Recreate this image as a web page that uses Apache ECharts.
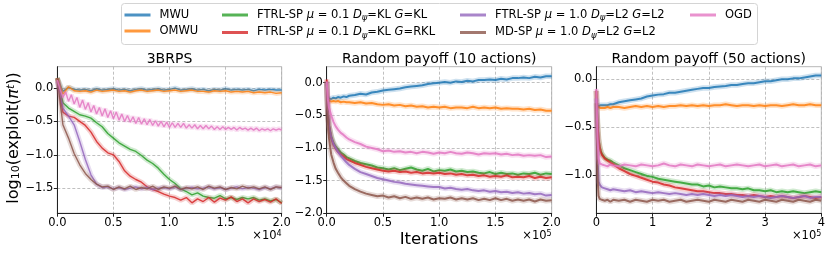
<!DOCTYPE html>
<html><head><meta charset="utf-8">
<script src="https://cdn.jsdelivr.net/npm/echarts@6/dist/echarts.min.js"></script>
<style>html,body{margin:0;padding:0;background:#fff}#c{width:830px;height:253px}</style>
</head><body><div id="c"></div>
<script>
const FONT = 'DejaVu Sans';
const names = ['MWU','OMWU','FTRL-SP μ = 0.1 Dψ=KL G=KL','FTRL-SP μ = 0.1 Dψ=KL G=RKL','FTRL-SP μ = 1.0 Dψ=L2 G=L2','MD-SP μ = 1.0 Dψ=L2 G=L2','OGD'];
const richNames = ['MWU','OMWU','FTRL-SP {i|μ} = 0.1 {i|D}{s|ψ}=KL {i|G}=KL','FTRL-SP {i|μ} = 0.1 {i|D}{s|ψ}=KL {i|G}=RKL','FTRL-SP {i|μ} = 1.0 {i|D}{s|ψ}=L2 {i|G}=L2','MD-SP {i|μ} = 1.0 {i|D}{s|ψ}=L2 {i|G}=L2','OGD'];
const colors = ['#1f77b4','#ff7f0e','#2ca02c','#d62728','#9467bd','#8c564b','#e377c2'];
const panelTitles = ['3BRPS','Random payoff (10 actions)','Random payoff (50 actions)'];
const yTicks1 = [-1.5,-1.0,-0.5,0.0];
const yTicks2 = [-2.0,-1.5,-1.0,-0.5,0.0];
const yTicks3 = [-1.0,-0.5,0.0];

// ---- Panel 1: 3BRPS ----
const p1X = [0,500,1000,1500,2000,2500,3000,3500,4000,4500,5000,5500,6000,6500,7000,7500,8000,8500,9000,9500,10000,10500,11000,11500,12000,12500,13000,13500,14000,14500,15000,15500,16000,16500,17000,17500,18000,18500,19000,19500,20000];
const p1XFine = [0,250,500,750,1000,1250,1500,1750,2000,2250,2500,2750,3000,3250,3500,3750,4000,4250,4500,4750,5000,5250,5500,5750,6000,6250,6500,6750,7000,7250,7500,7750,8000,8250,8500,8750,9000,9250,9500,9750,10000,10250,10500,10750,11000,11250,11500,11750,12000,12250,12500,12750,13000,13250,13500,13750,14000,14250,14500,14750,15000,15250,15500,15750,16000,16250,16500,16750,17000,17250,17500,17750,18000,18250,18500,18750,19000,19250,19500,19750,20000];
const p1MWU = [0.15,-0.05,0.01,-0.02,-0.03,-0.02,-0.04,-0.01,-0.03,-0.02,-0.01,-0.03,-0.02,-0.04,-0.02,-0.01,-0.03,-0.02,-0.01,-0.03,-0.02,0.00,-0.03,-0.02,-0.01,-0.03,-0.02,-0.04,-0.02,-0.03,-0.01,-0.03,-0.02,-0.03,-0.02,-0.04,-0.02,-0.03,-0.02,-0.03,-0.03];
const p1OMWU = [0.15,-0.09,0.02,-0.04,-0.05,-0.04,-0.06,-0.03,-0.05,-0.04,-0.03,-0.05,-0.04,-0.06,-0.04,-0.03,-0.05,-0.04,-0.03,-0.05,-0.04,-0.03,-0.05,-0.04,-0.03,-0.05,-0.05,-0.06,-0.04,-0.05,-0.04,-0.06,-0.05,-0.06,-0.05,-0.07,-0.06,-0.07,-0.06,-0.08,-0.07];
const p1FtrlKL = [0.15,-0.22,-0.30,-0.35,-0.40,-0.42,-0.45,-0.52,-0.58,-0.68,-0.75,-0.82,-0.87,-0.92,-0.95,-1.01,-1.08,-1.13,-1.20,-1.29,-1.37,-1.43,-1.51,-1.55,-1.60,-1.57,-1.62,-1.64,-1.65,-1.61,-1.66,-1.64,-1.67,-1.64,-1.66,-1.64,-1.68,-1.66,-1.69,-1.67,-1.72];
const p1FtrlRKL = [0.15,-0.36,-0.42,-0.44,-0.50,-0.56,-0.66,-0.80,-0.90,-0.97,-1.00,-1.10,-1.24,-1.32,-1.37,-1.41,-1.48,-1.52,-1.55,-1.59,-1.62,-1.64,-1.68,-1.64,-1.72,-1.66,-1.70,-1.64,-1.71,-1.65,-1.68,-1.63,-1.70,-1.66,-1.72,-1.66,-1.70,-1.67,-1.71,-1.66,-1.73];
const p1FtrlL2 = [0.10,-0.30,-0.42,-0.55,-0.80,-1.07,-1.30,-1.44,-1.49,-1.48,-1.51,-1.49,-1.52,-1.50,-1.48,-1.51,-1.49,-1.52,-1.50,-1.49,-1.51,-1.48,-1.52,-1.50,-1.49,-1.51,-1.50,-1.48,-1.51,-1.49,-1.52,-1.50,-1.48,-1.51,-1.49,-1.50,-1.52,-1.49,-1.51,-1.48,-1.50];
const p1MDSP = [0.15,-0.55,-0.75,-0.98,-1.15,-1.28,-1.37,-1.44,-1.48,-1.47,-1.52,-1.48,-1.51,-1.47,-1.52,-1.49,-1.51,-1.47,-1.52,-1.48,-1.50,-1.47,-1.52,-1.49,-1.51,-1.48,-1.52,-1.47,-1.50,-1.48,-1.52,-1.49,-1.51,-1.47,-1.50,-1.48,-1.51,-1.48,-1.52,-1.48,-1.49];
const p1OGD = [0.12,-0.02,-0.14,-0.06,-0.20,-0.10,-0.24,-0.14,-0.29,-0.18,-0.32,-0.22,-0.36,-0.26,-0.39,-0.29,-0.42,-0.31,-0.44,-0.34,-0.46,-0.36,-0.48,-0.39,-0.50,-0.41,-0.51,-0.43,-0.53,-0.44,-0.54,-0.46,-0.55,-0.47,-0.56,-0.49,-0.57,-0.50,-0.58,-0.51,-0.59,-0.52,-0.59,-0.53,-0.59,-0.53,-0.60,-0.55,-0.60,-0.55,-0.61,-0.56,-0.61,-0.56,-0.61,-0.57,-0.62,-0.58,-0.62,-0.58,-0.62,-0.59,-0.62,-0.59,-0.63,-0.59,-0.62,-0.60,-0.63,-0.60,-0.63,-0.60,-0.64,-0.61,-0.63,-0.61,-0.64,-0.61,-0.63,-0.61,-0.63];

// ---- Panel 2: Random payoff (10 actions) ----
const p2X = [0,1000,2000,4000,6000,8000,10000,12500,15000,17500,20000,25000,30000,35000,40000,45000,50000,55000,60000,65000,70000,75000,80000,85000,90000,95000,100000,105000,110000,115000,120000,125000,130000,135000,140000,145000,150000,155000,160000,165000,170000,175000,180000,185000,190000,195000,200000];
const p2MWU = [-0.25,-0.26,-0.24,-0.25,-0.23,-0.24,-0.22,-0.23,-0.21,-0.22,-0.20,-0.19,-0.17,-0.18,-0.15,-0.14,-0.12,-0.11,-0.10,-0.09,-0.07,-0.06,-0.05,-0.04,-0.02,-0.01,0.00,0.01,0.00,0.02,0.01,0.03,0.02,0.04,0.04,0.05,0.04,0.06,0.05,0.07,0.07,0.08,0.07,0.09,0.08,0.10,0.10];
const p2OMWU = [-0.27,-0.28,-0.27,-0.29,-0.28,-0.29,-0.28,-0.30,-0.29,-0.30,-0.30,-0.31,-0.30,-0.32,-0.31,-0.33,-0.34,-0.33,-0.35,-0.34,-0.36,-0.35,-0.37,-0.36,-0.38,-0.37,-0.38,-0.37,-0.39,-0.38,-0.38,-0.39,-0.37,-0.39,-0.38,-0.39,-0.38,-0.40,-0.39,-0.40,-0.40,-0.41,-0.40,-0.42,-0.41,-0.43,-0.43];
const p2FtrlKL = [0.02,-0.45,-0.65,-0.82,-0.92,-0.98,-1.02,-1.07,-1.10,-1.14,-1.16,-1.20,-1.23,-1.25,-1.27,-1.30,-1.31,-1.33,-1.31,-1.34,-1.32,-1.30,-1.33,-1.35,-1.32,-1.36,-1.34,-1.35,-1.33,-1.36,-1.35,-1.37,-1.36,-1.38,-1.39,-1.37,-1.40,-1.38,-1.40,-1.39,-1.41,-1.39,-1.40,-1.38,-1.41,-1.39,-1.40];
const p2FtrlRKL = [0.05,-0.45,-0.66,-0.85,-0.95,-1.01,-1.06,-1.10,-1.13,-1.17,-1.19,-1.23,-1.26,-1.29,-1.31,-1.33,-1.35,-1.36,-1.35,-1.37,-1.36,-1.38,-1.37,-1.39,-1.38,-1.39,-1.38,-1.40,-1.39,-1.41,-1.40,-1.42,-1.41,-1.43,-1.42,-1.44,-1.43,-1.44,-1.42,-1.45,-1.44,-1.45,-1.43,-1.46,-1.44,-1.46,-1.45];
const p2FtrlL2 = [0.00,-0.45,-0.66,-0.84,-0.94,-1.00,-1.06,-1.12,-1.17,-1.22,-1.26,-1.32,-1.37,-1.40,-1.43,-1.46,-1.48,-1.50,-1.52,-1.53,-1.55,-1.56,-1.57,-1.58,-1.59,-1.60,-1.60,-1.62,-1.61,-1.63,-1.64,-1.63,-1.65,-1.66,-1.65,-1.67,-1.66,-1.68,-1.67,-1.69,-1.68,-1.70,-1.69,-1.71,-1.70,-1.73,-1.72];
const p2MDSP = [0.00,-0.55,-0.85,-1.10,-1.22,-1.32,-1.38,-1.45,-1.50,-1.54,-1.58,-1.63,-1.67,-1.70,-1.72,-1.74,-1.73,-1.76,-1.74,-1.77,-1.75,-1.78,-1.76,-1.78,-1.76,-1.79,-1.77,-1.78,-1.76,-1.79,-1.77,-1.79,-1.77,-1.80,-1.78,-1.80,-1.77,-1.80,-1.78,-1.81,-1.79,-1.81,-1.79,-1.82,-1.79,-1.81,-1.80];
const p2OGD = [0.02,-0.25,-0.38,-0.50,-0.60,-0.67,-0.72,-0.77,-0.80,-0.84,-0.87,-0.91,-0.94,-0.98,-1.00,-1.02,-1.05,-1.04,-1.06,-1.05,-1.07,-1.06,-1.08,-1.06,-1.07,-1.09,-1.07,-1.08,-1.06,-1.08,-1.09,-1.07,-1.08,-1.10,-1.08,-1.09,-1.08,-1.10,-1.09,-1.11,-1.10,-1.12,-1.11,-1.12,-1.11,-1.14,-1.13];

// ---- Panel 3: Random payoff (50 actions) ----
const p3X = [0,2000,4000,6000,8000,10000,15000,20000,25000,30000,40000,50000,60000,70000,80000,90000,100000,110000,120000,130000,140000,150000,160000,170000,180000,190000,200000,210000,220000,230000,240000,250000,260000,270000,280000,290000,300000,310000,320000,330000,340000,350000,360000,370000,380000,390000,400000];
const p3MWU = [-0.28,-0.29,-0.28,-0.28,-0.27,-0.28,-0.27,-0.27,-0.26,-0.26,-0.24,-0.23,-0.22,-0.21,-0.20,-0.18,-0.17,-0.16,-0.155,-0.14,-0.14,-0.13,-0.12,-0.11,-0.10,-0.09,-0.09,-0.08,-0.075,-0.07,-0.06,-0.06,-0.05,-0.04,-0.04,-0.03,-0.02,-0.02,-0.01,0.00,0.00,0.01,0.01,0.02,0.03,0.04,0.04];
const p3OMWU = [-0.28,-0.30,-0.29,-0.29,-0.30,-0.29,-0.30,-0.29,-0.30,-0.29,-0.29,-0.30,-0.29,-0.28,-0.29,-0.28,-0.29,-0.28,-0.29,-0.28,-0.28,-0.27,-0.28,-0.27,-0.28,-0.27,-0.28,-0.27,-0.27,-0.26,-0.27,-0.28,-0.27,-0.27,-0.28,-0.27,-0.28,-0.27,-0.27,-0.28,-0.27,-0.26,-0.27,-0.27,-0.26,-0.27,-0.27];
const p3FtrlKL = [-0.12,-0.45,-0.62,-0.70,-0.75,-0.78,-0.82,-0.84,-0.85,-0.87,-0.90,-0.93,-0.95,-0.97,-0.99,-1.01,-1.02,-1.04,-1.05,-1.06,-1.07,-1.08,-1.09,-1.10,-1.10,-1.12,-1.11,-1.13,-1.12,-1.13,-1.14,-1.14,-1.15,-1.14,-1.16,-1.16,-1.17,-1.16,-1.18,-1.17,-1.18,-1.17,-1.18,-1.19,-1.18,-1.17,-1.18];
const p3FtrlRKL = [-0.12,-0.45,-0.63,-0.71,-0.76,-0.79,-0.83,-0.85,-0.87,-0.89,-0.93,-0.96,-0.99,-1.01,-1.03,-1.05,-1.07,-1.08,-1.10,-1.11,-1.13,-1.14,-1.15,-1.16,-1.17,-1.17,-1.18,-1.19,-1.19,-1.20,-1.20,-1.21,-1.21,-1.22,-1.21,-1.22,-1.23,-1.22,-1.23,-1.22,-1.23,-1.24,-1.23,-1.22,-1.23,-1.24,-1.23];
const p3FtrlL2 = [-0.20,-0.80,-1.07,-1.10,-1.12,-1.13,-1.14,-1.15,-1.16,-1.15,-1.16,-1.17,-1.16,-1.18,-1.17,-1.18,-1.19,-1.18,-1.19,-1.20,-1.19,-1.20,-1.21,-1.20,-1.21,-1.20,-1.21,-1.22,-1.21,-1.22,-1.21,-1.22,-1.23,-1.22,-1.23,-1.22,-1.23,-1.24,-1.23,-1.22,-1.23,-1.24,-1.23,-1.22,-1.24,-1.23,-1.23];
const p3MDSP = [-0.25,-1.00,-1.22,-1.25,-1.27,-1.26,-1.27,-1.26,-1.28,-1.26,-1.27,-1.26,-1.28,-1.26,-1.27,-1.28,-1.26,-1.27,-1.26,-1.28,-1.27,-1.26,-1.28,-1.27,-1.26,-1.27,-1.28,-1.26,-1.27,-1.28,-1.26,-1.27,-1.28,-1.26,-1.27,-1.28,-1.26,-1.27,-1.28,-1.26,-1.27,-1.28,-1.26,-1.27,-1.28,-1.26,-1.27];
const p3OGD = [-0.10,-0.60,-0.83,-0.88,-0.90,-0.89,-0.90,-0.91,-0.89,-0.90,-0.91,-0.89,-0.90,-0.91,-0.89,-0.90,-0.91,-0.90,-0.88,-0.90,-0.91,-0.89,-0.90,-0.91,-0.89,-0.90,-0.91,-0.90,-0.89,-0.91,-0.90,-0.89,-0.90,-0.91,-0.90,-0.89,-0.91,-0.90,-0.89,-0.91,-0.90,-0.89,-0.91,-0.90,-0.89,-0.91,-0.90];

const panelX = [p1X, p2X, p3X];
const panelY = [
  [p1MWU, p1OMWU, p1FtrlKL, p1FtrlRKL, p1FtrlL2, p1MDSP, p1OGD],
  [p2MWU, p2OMWU, p2FtrlKL, p2FtrlRKL, p2FtrlL2, p2MDSP, p2OGD],
  [p3MWU, p3OMWU, p3FtrlKL, p3FtrlRKL, p3FtrlL2, p3MDSP, p3OGD]
];

const grids = [
  {left:57.3, top:66.7, width:224.4, height:146.5},
  {left:326.7, top:66.7, width:225, height:146.5},
  {left:596.3, top:66.7, width:225, height:146.5}
].map(g => Object.assign(g, {show:true, borderColor:'#b8b8b8', borderWidth:1, backgroundColor:'transparent', containLabel:false, outerBoundsMode:'none'}));

const yRanges = [[-1.875, 0.32], [-2.0, 0.245], [-1.40, 0.132]];
const ySplit = [4, 4, 3];
const yTicks = [yTicks1, yTicks2, yTicks3];
const xMax = [20000, 200000, 400000];
const xInt = [5000, 50000, 100000];
const xFmt = [v => (v/1e4).toFixed(1), v => (v/1e5).toFixed(1), v => (v/1e5).toFixed(0)];

function fmtY(v){
  if (Math.abs(v/0.5 - Math.round(v/0.5)) > 1e-6) return '';
  let s = (Math.abs(v) < 1e-9 ? 0 : v).toFixed(1);
  return s.replace('-', '\u2212');
}

const splitStyle = {show:true, lineStyle:{color:'#b0b0b0', type:[3,2], width:0.8}};
const xAxes = [0,1,2].map(p => ({
  type:'value', gridIndex:p, min:0, max:xMax[p], interval:xInt[p],
  axisLine:{show:true, onZero:false, lineStyle:{color:'#222', width:1}},
  axisTick:{show:true, length:3.5, lineStyle:{color:'#222'}},
  axisLabel:{fontSize:11.5, fontFamily:FONT, color:'#000', margin:4, formatter:xFmt[p], showMinLabel:true, showMaxLabel:true},
  splitLine:splitStyle
}));
const yAxes = [0,1,2].map(p => ({
  type:'value', gridIndex:p, min:yRanges[p][0], max:yRanges[p][1], splitNumber:ySplit[p],
  axisLine:{show:true, onZero:false, lineStyle:{color:'#222', width:1}},
  axisTick:{show:true, length:3.5, lineStyle:{color:'#222'}, customValues:yTicks[p]},
  axisLabel:{fontSize:11.5, fontFamily:FONT, color:'#000', margin:4, formatter:fmtY, customValues:yTicks[p]},
  splitLine:splitStyle
}));

const series = [];
for (let p = 0; p < 3; p++) {
  for (let k = 0; k < 7; k++) {
    const xs = (p === 0 && k === 6) ? p1XFine : panelX[p];
    const ys = panelY[p][k];
    const data = ys.map((y, i) => [xs[i], y]);
    series.push({type:'line', name:names[k] + ' band', xAxisIndex:p, yAxisIndex:p, data, symbol:'none', silent:true,
      lineStyle:{color:colors[k], width:p === 0 ? 5 : 5.5, opacity:0.22}, itemStyle:{color:colors[k]}, animation:false});
    series.push({type:'line', name:names[k], xAxisIndex:p, yAxisIndex:p, data, symbol:'none', silent:true,
      lineStyle:{color:colors[k], width:p === 0 ? 1.4 : 2, opacity:0.85}, itemStyle:{color:colors[k], opacity:0.8}, animation:false});
  }
}

const legendRich = {
  i:{fontStyle:'italic', fontSize:11.5, fontFamily:FONT, color:'#000'},
  s:{fontStyle:'italic', fontSize:8.5, fontFamily:FONT, color:'#000', padding:[6,0,0,0]}
};
const legendCols = [[0,1],[2,3],[4,5],[6]];
const legendLeft = [124.5, 222, 460, 690];
const legends = legendCols.map((idx, c) => ({
  orient:'vertical', left:legendLeft[c], top:9, padding:0, itemGap:4,
  itemWidth:26, itemHeight:3, icon:'rect',
  data: idx.map(i => names[i]),
  formatter: n => richNames[names.indexOf(n)],
  textStyle:{fontSize:11.5, fontFamily:FONT, color:'#000', padding:[0,0,0,4], rich:legendRich},
  selectedMode:false
}));

const titleX = [169.5, 439.2, 708.8];
const rightX = [281.7, 551.7, 821.3];
const exps = ['4','5','5'];
const graphic = [
  {type:'rect', silent:true, z:-10, shape:{x:121.5, y:3.5, width:636, height:41, r:3}, style:{fill:'#fff', stroke:'#d4d4d4', lineWidth:1}}
];
for (let p = 0; p < 3; p++) {
  graphic.push({type:'text', silent:true, x:titleX[p], y:59, style:{text:panelTitles[p], fontSize:14, fontFamily:FONT, fill:'#000', align:'center', verticalAlign:'middle'}});
  graphic.push({type:'text', silent:true, x:rightX[p], y:236, style:{text:'×10{sup|' + exps[p] + '}', fontSize:11.5, fontFamily:FONT, fill:'#000', align:'right', verticalAlign:'middle',
    rich:{sup:{fontSize:8, fontFamily:FONT, fill:'#000', verticalAlign:'top'}}}});
}
graphic.push({type:'text', silent:true, x:439, y:240, style:{text:'Iterations', fontSize:16.5, fontFamily:FONT, fill:'#000', align:'center', verticalAlign:'middle'}});
graphic.push({type:'text', silent:true, x:14, y:138, rotation:Math.PI/2, style:{text:'log{sub|10}(exploit({i|π}{sup|t}))', fontSize:16, fontFamily:FONT, fill:'#000', align:'center', verticalAlign:'middle',
  rich:{sub:{fontSize:11, fontFamily:FONT, fill:'#000', verticalAlign:'bottom'}, sup:{fontSize:11, fontStyle:'italic', fontFamily:FONT, fill:'#000', verticalAlign:'top'}, i:{fontSize:16, fontStyle:'italic', fontFamily:FONT, fill:'#000'}}}});

const chart = echarts.init(document.getElementById('c'), null, {renderer:'canvas'});
chart.setOption({
  animation:false,
  backgroundColor:'#fff',
  grid:grids, xAxis:xAxes, yAxis:yAxes,
  legend:legends,
  series, graphic
});
</script>
</body></html>
